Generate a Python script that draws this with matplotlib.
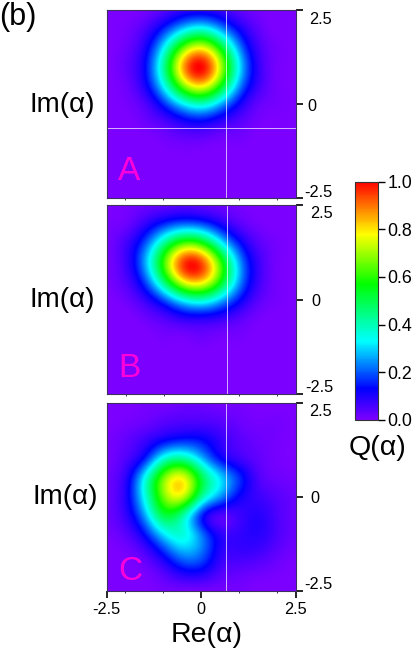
import numpy as np
import matplotlib
matplotlib.use("Agg")
import matplotlib.pyplot as plt
from matplotlib.colors import LinearSegmentedColormap, Normalize
from matplotlib.transforms import ScaledTranslation
from matplotlib.ticker import FixedLocator

plt.rcParams['font.family'] = ['Liberation Sans', 'DejaVu Sans']

# Q-function values on a 0.5-spaced grid
re_grid = [-2.5, -2.0, -1.5, -1.0, -0.5, 0.0, 0.5, 1.0, 1.5, 2.0, 2.5]
im_grid = [2.5, 2.0, 1.5, 1.0, 0.5, 0.0, -0.5, -1.0, -1.5, -2.0, -2.5]

panel_a = [
    [.00, .00, .01, .04, .08, .09, .07, .03, .01, .00, .00],
    [.00, .01, .05, .15, .28, .34, .24, .11, .03, .00, .00],
    [.00, .02, .10, .32, .62, .74, .53, .23, .06, .01, .00],
    [.00, .03, .13, .43, .84, .99, .71, .31, .08, .01, .00],
    [.00, .02, .11, .35, .68, .81, .58, .25, .07, .01, .00],
    [.00, .01, .05, .17, .33, .40, .28, .12, .03, .01, .00],
    [.00, .00, .02, .05, .10, .12, .08, .04, .01, .00, .00],
    [.00, .00, .00, .01, .02, .02, .01, .01, .00, .00, .00],
    [.00, .00, .00, .00, .00, .00, .00, .00, .00, .00, .00],
    [.00, .00, .00, .00, .00, .00, .00, .00, .00, .00, .00],
    [.00, .00, .00, .00, .00, .00, .00, .00, .00, .00, .00],
]
panel_b = [
    [.00, .01, .02, .03, .04, .03, .02, .01, .00, .00, .00],
    [.01, .02, .08, .16, .21, .19, .11, .04, .01, .00, .00],
    [.01, .06, .19, .42, .61, .57, .34, .14, .04, .01, .00],
    [.01, .07, .26, .61, .93, .92, .60, .25, .07, .01, .00],
    [.01, .05, .19, .48, .78, .82, .57, .25, .07, .01, .00],
    [.00, .02, .08, .20, .35, .40, .29, .14, .04, .01, .00],
    [.00, .00, .02, .05, .09, .10, .08, .04, .01, .00, .00],
    [.00, .00, .00, .01, .01, .02, .01, .01, .00, .00, .00],
    [.00, .00, .00, .00, .00, .00, .00, .00, .00, .00, .00],
    [.00, .00, .00, .00, .00, .00, .00, .00, .00, .00, .00],
    [.00, .00, .00, .00, .00, .00, .00, .00, .00, .00, .00],
]
panel_c = [
    [.00, .00, .01, .01, .02, .02, .01, .01, .00, .00, .00],
    [.00, .01, .02, .04, .05, .05, .04, .02, .01, .01, .00],
    [.01, .03, .07, .13, .16, .14, .08, .04, .02, .01, .00],
    [.01, .05, .16, .38, .44, .29, .14, .07, .03, .01, .00],
    [.02, .09, .34, .66, .76, .50, .30, .16, .05, .02, .01],
    [.02, .10, .35, .66, .72, .42, .24, .12, .07, .04, .02],
    [.02, .08, .26, .50, .42, .16, .05, .07, .09, .05, .02],
    [.01, .04, .14, .31, .36, .22, .09, .08, .09, .05, .02],
    [.00, .01, .05, .15, .25, .21, .09, .07, .06, .03, .01],
    [.00, .00, .01, .05, .11, .11, .05, .03, .02, .01, .00],
    [.00, .00, .00, .01, .01, .01, .01, .01, .00, .00, .00],
]
panel_names = ['A', 'B', 'C']
y_ticks = [2.5, 0, -2.5]
y_tick_labels = ['2.5', '0', '-2.5']
x_ticks = [-2.5, 0, 2.5]
x_tick_labels = ['-2.5', '0', '2.5']
x_minor = [-2, -1, 1, 2]
cbar_ticks = [0.0, 0.2, 0.4, 0.6, 0.8, 1.0]
cbar_tick_labels = ['0.0', '0.2', '0.4', '0.6', '0.8', '1.0']
cut_re = 0.67
cut_im = -0.64

W, H = 415, 651
fig = plt.figure(figsize=(W / 100, H / 100), dpi=100)

def px_axes(l, t, r, b):
    return fig.add_axes([l / W, 1 - b / H, (r - l) / W, (b - t) / H])

cmap = LinearSegmentedColormap.from_list('q', [
    (0.00, (0.49, 0.0, 1.0)),
    (0.13, (0.0, 0.0, 1.0)),
    (0.33, (0.0, 1.0, 1.0)),
    (0.57, (0.0, 1.0, 0.0)),
    (0.78, (1.0, 1.0, 0.0)),
    (1.00, (1.0, 0.0, 0.0)),
], N=256)
norm = Normalize(0, 1)
frame = '#3d3060'

boxes = [(106.5, 9.5, 295.5, 198), (107, 205.5, 296, 394), (106.5, 403, 295.5, 591)]
# tick label nudges in pixels (right, down) per panel and tick
label_dx = [[5, 3, 0], [5, 6, 0], [5, 6, 0]]
label_dy = [[8, 1, -7], [7, 0, -8], [7, 0, -8]]
data_sets = [panel_a, panel_b, panel_c]
label_y = [105, 300, 497]
label_x = [62, 62, 65]
letter_base = [180, 377, 580]

for i, (box, values) in enumerate(zip(boxes, data_sets)):
    ax = px_axes(*box)
    step = 0.5
    im = ax.imshow(np.array(values), cmap=cmap, norm=norm, interpolation='spline36',
                   extent=[re_grid[0] - step / 2, re_grid[-1] + step / 2,
                           im_grid[-1] - step / 2, im_grid[0] + step / 2], aspect='auto')
    ax.set_xlim(-2.5, 2.5)
    ax.set_ylim(-2.5, 2.5)
    ax.axvline(cut_re, color='white', lw=0.7, alpha=0.7)
    if i == 0:
        ax.axhline(cut_im, color='white', lw=0.7, alpha=0.7)
    for s in ax.spines.values():
        s.set_color(frame)
        s.set_linewidth(0.8)
    ax.yaxis.tick_right()
    ax.set_yticks(y_ticks)
    ax.set_yticklabels(y_tick_labels, fontsize=11.7)
    ax.tick_params(axis='y', direction='out', length=5, width=1.2, pad=1.5, color='black')
    for tick, dx, dy in zip(ax.yaxis.get_major_ticks(), label_dx[i], label_dy[i]):
        tick.label2.set_transform(tick.label2.get_transform() +
                                  ScaledTranslation(dx / 100, -dy / 100, fig.dpi_scale_trans))
    ax.xaxis.set_minor_locator(FixedLocator(x_minor))
    ax.tick_params(axis='x', which='minor', direction='out', length=1.6, width=0.7, color=frame)
    if i == 2:
        ax.set_xticks(x_ticks)
        ax.set_xticklabels(x_tick_labels, fontsize=11.7)
        ax.tick_params(axis='x', which='major', direction='out', length=5, width=1.2, pad=3)
    else:
        ax.set_xticks([])
    fig.text(label_x[i] / W, 1 - label_y[i] / H, 'Im(α)', fontsize=20, ha='center', va='center')
    fig.text(118 / W, 1 - letter_base[i] / H, panel_names[i], fontsize=24,
             color='#ff00dc', ha='left', va='baseline')

fig.text(206.5 / W, 1 - 635 / H, 'Re(α)', fontsize=20.5, ha='center', va='center')
fig.text(-1 / W, 1 - 17 / H, '(b)', fontsize=22, ha='left', va='center')

cax = px_axes(355, 181.5, 378, 420)
cb = fig.colorbar(im, cax=cax, ticks=cbar_ticks)
cb.set_ticklabels(cbar_tick_labels, fontsize=12.8)
cb.ax.tick_params(length=5, width=1, pad=2)
cb.outline.set_linewidth(0.8)
cb.outline.set_edgecolor('#333333')
fig.text(377 / W, 1 - 448 / H, 'Q(α)', fontsize=20.5, ha='center', va='center')

fig.savefig('out.png', dpi=100)
